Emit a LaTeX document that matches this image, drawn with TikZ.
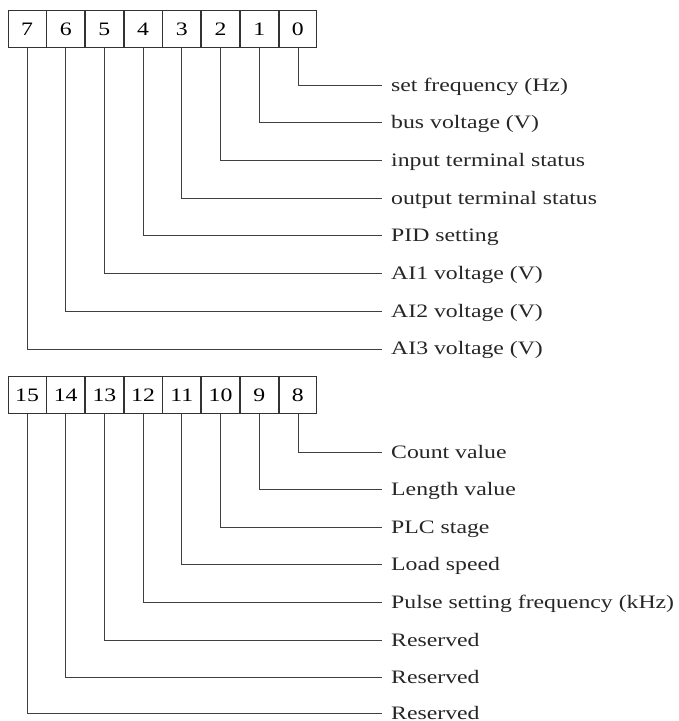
\documentclass[tikz,border=0pt]{standalone}
\usepackage{fontspec}
\setmainfont{Liberation Serif}[FakeStretch=1.25]
\usetikzlibrary{positioning}

\begin{document}
\begin{tikzpicture}[x=1pt, y=-1pt, font=\fontsize{19}{22}\selectfont,
  bitbox/.style={draw=black!80, line width=0.8pt, minimum width=37.9pt, minimum height=37.7pt, inner sep=0pt},
  lbl/.style={anchor=west, inner xsep=9pt, inner ysep=0pt, text height=14pt, text depth=2pt, text=black!85},
  wire/.style={draw=black!75, line width=0.8pt}]
\useasboundingbox (0,0) rectangle (679,721);
% low byte
\node[bitbox] (b7) at (27,29) {7};
\node[bitbox, right=0pt of b7] (b6) {6};
\node[bitbox, right=0pt of b6] (b5) {5};
\node[bitbox, right=0pt of b5] (b4) {4};
\node[bitbox, right=0pt of b4] (b3) {3};
\node[bitbox, right=0pt of b3] (b2) {2};
\node[bitbox, right=0pt of b2] (b1) {1};
\node[bitbox, right=0pt of b1] (b0) {0};
\node[lbl] (l0) at (382,85) {set frequency (Hz)};
\node[lbl] (l1) at (382,122.7) {bus voltage (V)};
\node[lbl] (l2) at (382,160.4) {input terminal status};
\node[lbl] (l3) at (382,198.1) {output terminal status};
\node[lbl] (l4) at (382,235.8) {PID setting};
\node[lbl] (l5) at (382,273.5) {AI1 voltage (V)};
\node[lbl] (l6) at (382,311.2) {AI2 voltage (V)};
\node[lbl] (l7) at (382,348.9) {AI3 voltage (V)};
\draw[wire] (b0.south) |- (l0.west); \draw[wire] (b1.south) |- (l1.west);
\draw[wire] (b2.south) |- (l2.west); \draw[wire] (b3.south) |- (l3.west);
\draw[wire] (b4.south) |- (l4.west); \draw[wire] (b5.south) |- (l5.west);
\draw[wire] (b6.south) |- (l6.west); \draw[wire] (b7.south) |- (l7.west);
% high byte
\node[bitbox] (b15) at (27,395) {15};
\node[bitbox, right=0pt of b15] (b14) {14};
\node[bitbox, right=0pt of b14] (b13) {13};
\node[bitbox, right=0pt of b13] (b12) {12};
\node[bitbox, right=0pt of b12] (b11) {11};
\node[bitbox, right=0pt of b11] (b10) {10};
\node[bitbox, right=0pt of b10] (b9) {9};
\node[bitbox, right=0pt of b9] (b8) {8};
\node[lbl] (l8) at (382,452) {Count value};
\node[lbl] (l9) at (382,489.6) {Length value};
\node[lbl] (l10) at (382,527.2) {PLC stage};
\node[lbl] (l11) at (382,564.8) {Load speed};
\node[lbl] (l12) at (382,602.4) {Pulse setting frequency (kHz)};
\node[lbl] (l13) at (382,640) {Reserved};
\node[lbl] (l14) at (382,677.6) {Reserved};
\node[lbl] (l15) at (382,713.5) {Reserved};
\draw[wire] (b8.south) |- (l8.west); \draw[wire] (b9.south) |- (l9.west);
\draw[wire] (b10.south) |- (l10.west); \draw[wire] (b11.south) |- (l11.west);
\draw[wire] (b12.south) |- (l12.west); \draw[wire] (b13.south) |- (l13.west);
\draw[wire] (b14.south) |- (l14.west); \draw[wire] (b15.south) |- (l15.west);
\end{tikzpicture}
\end{document}
